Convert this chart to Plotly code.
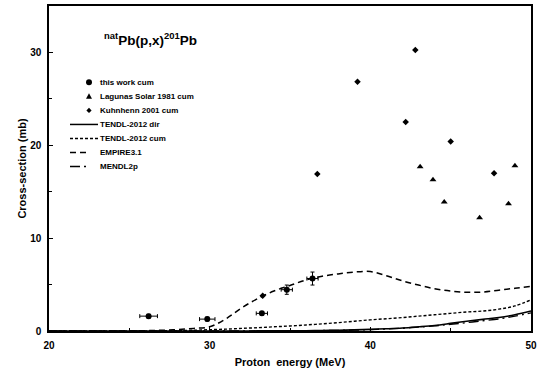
import plotly.graph_objects as go

# --- data ---
this_x = [26.2, 29.85, 33.25, 34.8, 36.4]
this_y = [1.6, 1.28, 1.9, 4.45, 5.65]
this_xerr = [0.55, 0.48, 0.35, 0.35, 0.35]
this_yerr = [0.2, 0.2, 0.2, 0.5, 0.7]

lag_x = [43.1, 43.9, 44.6, 46.8, 48.6, 49.0]
lag_y = [17.7, 16.3, 13.9, 12.2, 13.7, 17.8]

kuh_x = [33.3, 36.7, 39.2, 42.2, 42.8, 45.0, 47.7]
kuh_y = [3.8, 16.9, 26.85, 22.5, 30.25, 20.4, 17.0]

grid_x = [20, 22, 24, 26, 27, 28, 29, 30, 31, 32, 33, 34, 35, 36, 37, 38, 39, 40,
          41, 42, 43, 44, 45, 46, 47, 48, 49, 50]
empire_y = [0.0, 0.0, 0.01, 0.04, 0.08, 0.15, 0.28, 0.45, 1.3, 2.5, 3.5, 4.3, 4.9, 5.5,
            5.9, 6.15, 6.35, 6.4, 5.95, 5.4, 4.95, 4.55, 4.3, 4.17, 4.2, 4.4, 4.6, 4.8]
tendl_cum_y = [0.0, 0.0, 0.0, 0.01, 0.02, 0.04, 0.08, 0.14, 0.2, 0.28, 0.36, 0.45, 0.54, 0.65,
               0.77, 0.9, 1.05, 1.2, 1.32, 1.45, 1.6, 1.75, 1.9, 2.05, 2.15, 2.35, 2.7, 3.35]
tendl_dir_y = [0.0, 0.0, 0.0, 0.0, 0.0, 0.0, 0.0, 0.0, 0.0, 0.0, 0.01, 0.01, 0.02, 0.03,
               0.05, 0.08, 0.12, 0.18, 0.24, 0.32, 0.45, 0.6, 0.82, 1.05, 1.25, 1.45, 1.75, 2.15]
mendl_y = [0.0, 0.0, 0.0, 0.0, 0.0, 0.0, 0.0, 0.0, 0.0, 0.0, 0.0, 0.01, 0.02, 0.03,
           0.05, 0.07, 0.1, 0.15, 0.22, 0.3, 0.42, 0.55, 0.72, 0.9, 1.1, 1.3, 1.6, 1.95]

x_ticks = [20, 30, 40, 50]
y_ticks = [0, 10, 20, 30]

legend_labels = ["this work cum", "Lagunas Solar 1981 cum", "Kuhnhenn 2001 cum",
                 "TENDL-2012 dir", "TENDL-2012 cum", "EMPIRE3.1", "MENDL2p"]

FONT = "Liberation Sans, Arial, sans-serif"

DASH_CUM = "3px,2px"
DASH_EMP = "6px,4px"
DASH_MEN = "10px,4px,2px,4px"

fig = go.Figure()

# model curves (drawn first)
fig.add_trace(go.Scatter(x=grid_x, y=tendl_dir_y, mode="lines", name=legend_labels[3],
                         line=dict(color="black", width=1.6), line_shape="spline"))
fig.add_trace(go.Scatter(x=grid_x, y=tendl_cum_y, mode="lines", name=legend_labels[4],
                         line=dict(color="black", width=1.4, dash=DASH_CUM), line_shape="spline"))
fig.add_trace(go.Scatter(x=grid_x, y=empire_y, mode="lines", name=legend_labels[5],
                         line=dict(color="black", width=1.5, dash=DASH_EMP), line_shape="spline"))
fig.add_trace(go.Scatter(x=grid_x, y=mendl_y, mode="lines", name=legend_labels[6],
                         line=dict(color="black", width=1.4, dash=DASH_MEN), line_shape="spline"))

# experimental data
fig.add_trace(go.Scatter(x=this_x, y=this_y, mode="markers", name=legend_labels[0],
                         marker=dict(symbol="circle", size=6, color="black"),
                         error_x=dict(type="data", array=this_xerr, color="black", thickness=1, width=2),
                         error_y=dict(type="data", array=this_yerr, color="black", thickness=1, width=2)))
fig.add_trace(go.Scatter(x=lag_x, y=lag_y, mode="markers", name=legend_labels[1],
                         marker=dict(symbol="triangle-up", size=6, color="black")))
fig.add_trace(go.Scatter(x=kuh_x, y=kuh_y, mode="markers", name=legend_labels[2],
                         marker=dict(symbol="diamond", size=5, color="black")))

# ---- custom legend (compact rows like the reference) ----
PX_L, PX_R, PX_T, PX_B = 49, 531, 6, 331
def px2x(px):
    return (px - PX_L) / (PX_R - PX_L)
def py2y(py):
    return (PX_B - py) / (PX_B - PX_T)

row0, rowstep = 82.3, 14.05
text_x = px2x(99)
mark_x = px2x(89)
shapes = []
for i, lab in enumerate(legend_labels):
    yy = py2y(row0 + i * rowstep)
    fig.add_annotation(x=text_x, y=yy, xref="paper", yref="paper", xanchor="left", yanchor="middle",
                       showarrow=False, text=lab, borderpad=0,
                       font=dict(family=FONT, size=8, color="black", weight="bold"))
    if i == 0:
        shapes.append(dict(type="circle", xref="paper", yref="paper", xsizemode="pixel", ysizemode="pixel",
                           xanchor=mark_x, yanchor=yy, x0=-3, x1=3, y0=-3, y1=3,
                           fillcolor="black", line=dict(width=0)))
    elif i == 1:
        shapes.append(dict(type="path", xref="paper", yref="paper", xsizemode="pixel", ysizemode="pixel",
                           xanchor=mark_x, yanchor=yy, path="M -3,-2.3 L 3,-2.3 L 0,3 Z",
                           fillcolor="black", line=dict(width=0)))
    elif i == 2:
        shapes.append(dict(type="path", xref="paper", yref="paper", xsizemode="pixel", ysizemode="pixel",
                           xanchor=mark_x, yanchor=yy, path="M -2.6,0 L 0,2.6 L 2.6,0 L 0,-2.6 Z",
                           fillcolor="black", line=dict(width=0)))
    else:
        dash = {3: "solid", 4: DASH_CUM, 5: DASH_EMP, 6: DASH_MEN}[i]
        x_end = 98 if i in (3, 4) else 86
        shapes.append(dict(type="line", xref="paper", yref="paper",
                           x0=px2x(70), x1=px2x(x_end), y0=yy, y1=yy,
                           line=dict(color="black", width=1.5, dash=dash)))

axis_common = dict(showline=True, linecolor="black", linewidth=1.5, mirror=True,
                   ticks="inside", ticklen=4, tickcolor="black", showgrid=False, zeroline=False,
                   automargin=False,
                   tickfont=dict(family=FONT, size=10, color="black", weight="bold"))

fig.update_xaxes(range=[20, 50], tickvals=x_ticks, ticktext=[str(v) for v in x_ticks],
                 minor=dict(ticks="inside", ticklen=3, tickcolor="black", dtick=5, tick0=0),
                 ticklabelstandoff=4,
                 title=dict(text="Proton  energy (MeV)", standoff=9,
                            font=dict(family=FONT, size=11, color="black", weight="bold")),
                 **axis_common)
fig.update_yaxes(range=[0, 35], tickvals=y_ticks, ticktext=[str(v) for v in y_ticks],
                 minor=dict(ticks="inside", ticklen=3, tickcolor="black", dtick=5, tick0=0),
                 ticklabelstandoff=4,
                 title=dict(text="Cross-section (mb)", standoff=1,
                            font=dict(family=FONT, size=11, color="black", weight="bold")),
                 **axis_common)

fig.add_annotation(x=px2x(103), y=py2y(39), xref="paper", yref="paper", xanchor="left", yanchor="middle",
                   showarrow=False, text="<b><sup>nat</sup>Pb(p,x)<sup>201</sup>Pb</b>", borderpad=0,
                   font=dict(family=FONT, size=13.5, color="black"))

fig.update_layout(
    width=543, height=378,
    margin=dict(l=PX_L, r=543 - PX_R, t=PX_T, b=378 - PX_B),
    plot_bgcolor="white", paper_bgcolor="white",
    showlegend=False,
    shapes=shapes,
)

fig.write_html("out.html", config={"displayModeBar": False},
               post_script="document.body.style.margin='0';")
